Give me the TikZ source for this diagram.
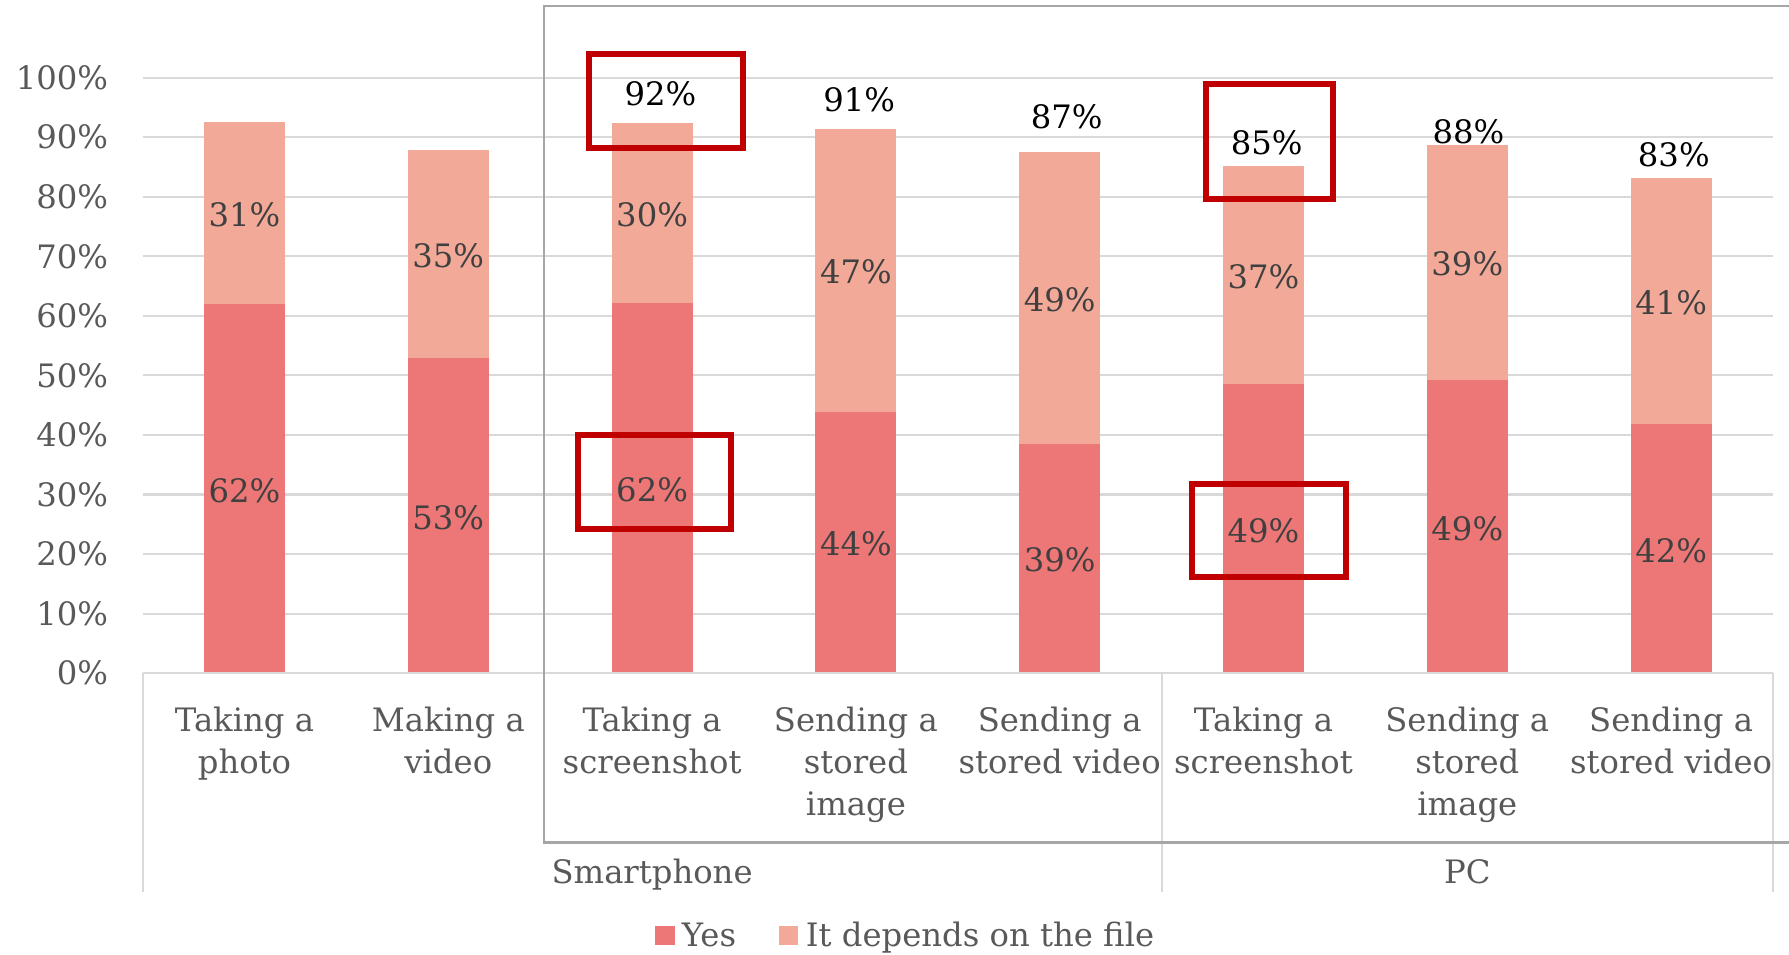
\documentclass[tikz,border=0pt]{standalone}
\usepackage{fontspec}
\setmainfont{DejaVu Serif}
\usepackage{xcolor}
\usepackage{tikz}

\begin{document}
\begin{tikzpicture}[x=0.75pt,y=0.75pt,yscale=-1,xscale=1,
    every node/.style={font=\fontsize{24.2pt}{31.2pt}\selectfont},
    gridln/.style={color={rgb, 255:red, 217; green, 217; blue, 217 }, line width=1.5},
    framln/.style={color={rgb, 255:red, 166; green, 166; blue, 166 }, line width=2},
    yesbar/.style={fill={rgb, 255:red, 237; green, 118; blue, 118 }, draw=none},
    depbar/.style={fill={rgb, 255:red, 242; green, 169; blue, 152 }, draw=none},
    axislbl/.style={color={rgb, 255:red, 89; green, 89; blue, 89 }, inner sep=0},
    barlbl/.style={color={rgb, 255:red, 64; green, 64; blue, 64 }, inner sep=0},
    totlbl/.style={color=black, inner sep=0},
    markbox/.style={draw={rgb, 255:red, 192; green, 0; blue, 0 }, line width=4.5}]
    \useasboundingbox (0,0) rectangle (1789,955);

    %Gridlines
    \draw [gridln] (142.6,613.6) -- (1773,613.6) ;
    \draw [gridln] (142.6,554.1) -- (1773,554.1) ;
    \draw [gridln] (142.6,494.5) -- (1773,494.5) ;
    \draw [gridln] (142.6,435.0) -- (1773,435.0) ;
    \draw [gridln] (142.6,375.4) -- (1773,375.4) ;
    \draw [gridln] (142.6,315.8) -- (1773,315.8) ;
    \draw [gridln] (142.6,256.3) -- (1773,256.3) ;
    \draw [gridln] (142.6,196.7) -- (1773,196.7) ;
    \draw [gridln] (142.6,137.2) -- (1773,137.2) ;
    \draw [gridln] (142.6,77.6) -- (1773,77.6) ;

    %Shape: Bars (Yes)
    \draw [yesbar] (204.0,673.2) -- (285.0,673.2) -- (285.0,304.5) -- (204.0,304.5) -- cycle ;
    \draw [yesbar] (407.8,673.2) -- (488.8,673.2) -- (488.8,358.1) -- (407.8,358.1) -- cycle ;
    \draw [yesbar] (611.6,673.2) -- (692.6,673.2) -- (692.6,303.3) -- (611.6,303.3) -- cycle ;
    \draw [yesbar] (815.4,673.2) -- (896.4,673.2) -- (896.4,411.7) -- (815.4,411.7) -- cycle ;
    \draw [yesbar] (1019.2,673.2) -- (1100.2,673.2) -- (1100.2,443.9) -- (1019.2,443.9) -- cycle ;
    \draw [yesbar] (1223.0,673.2) -- (1304.0,673.2) -- (1304.0,384.3) -- (1223.0,384.3) -- cycle ;
    \draw [yesbar] (1426.8,673.2) -- (1507.8,673.2) -- (1507.8,380.2) -- (1426.8,380.2) -- cycle ;
    \draw [yesbar] (1630.6,673.2) -- (1711.6,673.2) -- (1711.6,424.2) -- (1630.6,424.2) -- cycle ;
    %Shape: Bars (It depends on the file)
    \draw [depbar] (204.0,304.5) -- (285.0,304.5) -- (285.0,122.3) -- (204.0,122.3) -- cycle ;
    \draw [depbar] (407.8,358.1) -- (488.8,358.1) -- (488.8,149.7) -- (407.8,149.7) -- cycle ;
    \draw [depbar] (611.6,303.3) -- (692.6,303.3) -- (692.6,123.5) -- (611.6,123.5) -- cycle ;
    \draw [depbar] (815.4,411.7) -- (896.4,411.7) -- (896.4,128.8) -- (815.4,128.8) -- cycle ;
    \draw [depbar] (1019.2,443.9) -- (1100.2,443.9) -- (1100.2,152.1) -- (1019.2,152.1) -- cycle ;
    \draw [depbar] (1223.0,384.3) -- (1304.0,384.3) -- (1304.0,166.4) -- (1223.0,166.4) -- cycle ;
    \draw [depbar] (1426.8,380.2) -- (1507.8,380.2) -- (1507.8,144.9) -- (1426.8,144.9) -- cycle ;
    \draw [depbar] (1630.6,424.2) -- (1711.6,424.2) -- (1711.6,178.3) -- (1630.6,178.3) -- cycle ;

    %Straight Lines: axis and group separators
    \draw [gridln] (142.6,673.2) -- (1773,673.2) ;
    \draw [gridln] (142.6,673.2) -- (142.6,891.7) ;
    \draw [gridln] (1161.6,673.2) -- (1161.6,891.7) ;
    \draw [gridln] (1773,673.2) -- (1773,891.7) ;

    %Shape: Frame
    \draw [framln] (1795,6) -- (544,6) -- (544,842.5) -- (1795,842.5) ;

    % Text Node: y axis
    \draw (108.3,673.2) node (ytick0) [anchor=east][axislbl] {0\%};
    \draw (108.3,613.6) node (ytick10) [anchor=east][axislbl] {10\%};
    \draw (108.3,554.1) node (ytick20) [anchor=east][axislbl] {20\%};
    \draw (108.3,494.5) node (ytick30) [anchor=east][axislbl] {30\%};
    \draw (108.3,435.0) node (ytick40) [anchor=east][axislbl] {40\%};
    \draw (108.3,375.4) node (ytick50) [anchor=east][axislbl] {50\%};
    \draw (108.3,315.8) node (ytick60) [anchor=east][axislbl] {60\%};
    \draw (108.3,256.3) node (ytick70) [anchor=east][axislbl] {70\%};
    \draw (108.3,196.7) node (ytick80) [anchor=east][axislbl] {80\%};
    \draw (108.3,137.2) node (ytick90) [anchor=east][axislbl] {90\%};
    \draw (108.3,77.6) node (ytick100) [anchor=east][axislbl] {100\%};

    % Text Node: values in bars
    \draw (244.5,490.5) node (yes1) [barlbl] {62\%};
    \draw (448.3,517.3) node (yes2) [barlbl] {53\%};
    \draw (652.1,489.9) node (yes3) [barlbl] {62\%};
    \draw (855.9,544.1) node (yes4) [barlbl] {44\%};
    \draw (1059.7,560.2) node (yes5) [barlbl] {39\%};
    \draw (1263.5,530.4) node (yes6) [barlbl] {49\%};
    \draw (1467.3,528.3) node (yes7) [barlbl] {49\%};
    \draw (1671.1,550.3) node (yes8) [barlbl] {42\%};
    \draw (244.5,215.0) node (dep1) [barlbl] {31\%};
    \draw (448.3,255.5) node (dep2) [barlbl] {35\%};
    \draw (652.1,215.0) node (dep3) [barlbl] {30\%};
    \draw (855.9,271.9) node (dep4) [barlbl] {47\%};
    \draw (1059.7,299.6) node (dep5) [barlbl] {49\%};
    \draw (1263.5,277.0) node (dep6) [barlbl] {37\%};
    \draw (1467.3,264.2) node (dep7) [barlbl] {39\%};
    \draw (1671.1,302.9) node (dep8) [barlbl] {41\%};

    % Text Node: totals
    \draw (660.5,93.4) node (tot3) [totlbl] {92\%};
    \draw (859.2,99.5) node (tot4) [totlbl] {91\%};
    \draw (1066.8,117.0) node (tot5) [totlbl] {87\%};
    \draw (1266.7,143.0) node (tot6) [totlbl] {85\%};
    \draw (1468.5,132.0) node (tot7) [totlbl] {88\%};
    \draw (1673.8,154.7) node (tot8) [totlbl] {83\%};

    % Text Node: categories
    \draw (244.5,702.6) node (cat1) [anchor=north][axislbl][align=center] {\strut Taking a\\photo};
    \draw (448.3,702.6) node (cat2) [anchor=north][axislbl][align=center] {\strut Making a\\video};
    \draw (652.1,702.6) node (cat3) [anchor=north][axislbl][align=center] {\strut Taking a\\screenshot};
    \draw (855.9,702.6) node (cat4) [anchor=north][axislbl][align=center] {\strut Sending a\\stored\\image};
    \draw (1059.7,702.6) node (cat5) [anchor=north][axislbl][align=center] {\strut Sending a\\stored video};
    \draw (1263.5,702.6) node (cat6) [anchor=north][axislbl][align=center] {\strut Taking a\\screenshot};
    \draw (1467.3,702.6) node (cat7) [anchor=north][axislbl][align=center] {\strut Sending a\\stored\\image};
    \draw (1671.1,702.6) node (cat8) [anchor=north][axislbl][align=center] {\strut Sending a\\stored video};
    % Text Node: groups
    \draw (652.1,883.3) node (grpphone) [anchor=base][axislbl] {Smartphone};
    \draw (1467.3,883.3) node (grppc) [anchor=base][axislbl] {PC};

    %Shape: Highlight boxes
    \draw [markbox] (589,54.5) -- (743,54.5) -- (743,147.8) -- (589,147.8) -- cycle ;
    \draw [markbox] (577.9,435.5) -- (731.2,435.5) -- (731.2,528.8) -- (577.9,528.8) -- cycle ;
    \draw [markbox] (1205.5,83.8) -- (1333,83.8) -- (1333,198.8) -- (1205.5,198.8) -- cycle ;
    \draw [markbox] (1192,483.7) -- (1346.3,483.7) -- (1346.3,577) -- (1192,577) -- cycle ;

    %Legend
    \draw [yesbar] (655,926) -- (675,926) -- (675,945) -- (655,945) -- cycle ;
    \draw (681.7,946) node (legyes) [anchor=base west][axislbl] {Yes};
    \draw [depbar] (779.3,926) -- (797.7,926) -- (797.7,945) -- (779.3,945) -- cycle ;
    \draw (805.7,946) node (legdep) [anchor=base west][axislbl] {It depends on the file};

\end{tikzpicture}
\end{document}
